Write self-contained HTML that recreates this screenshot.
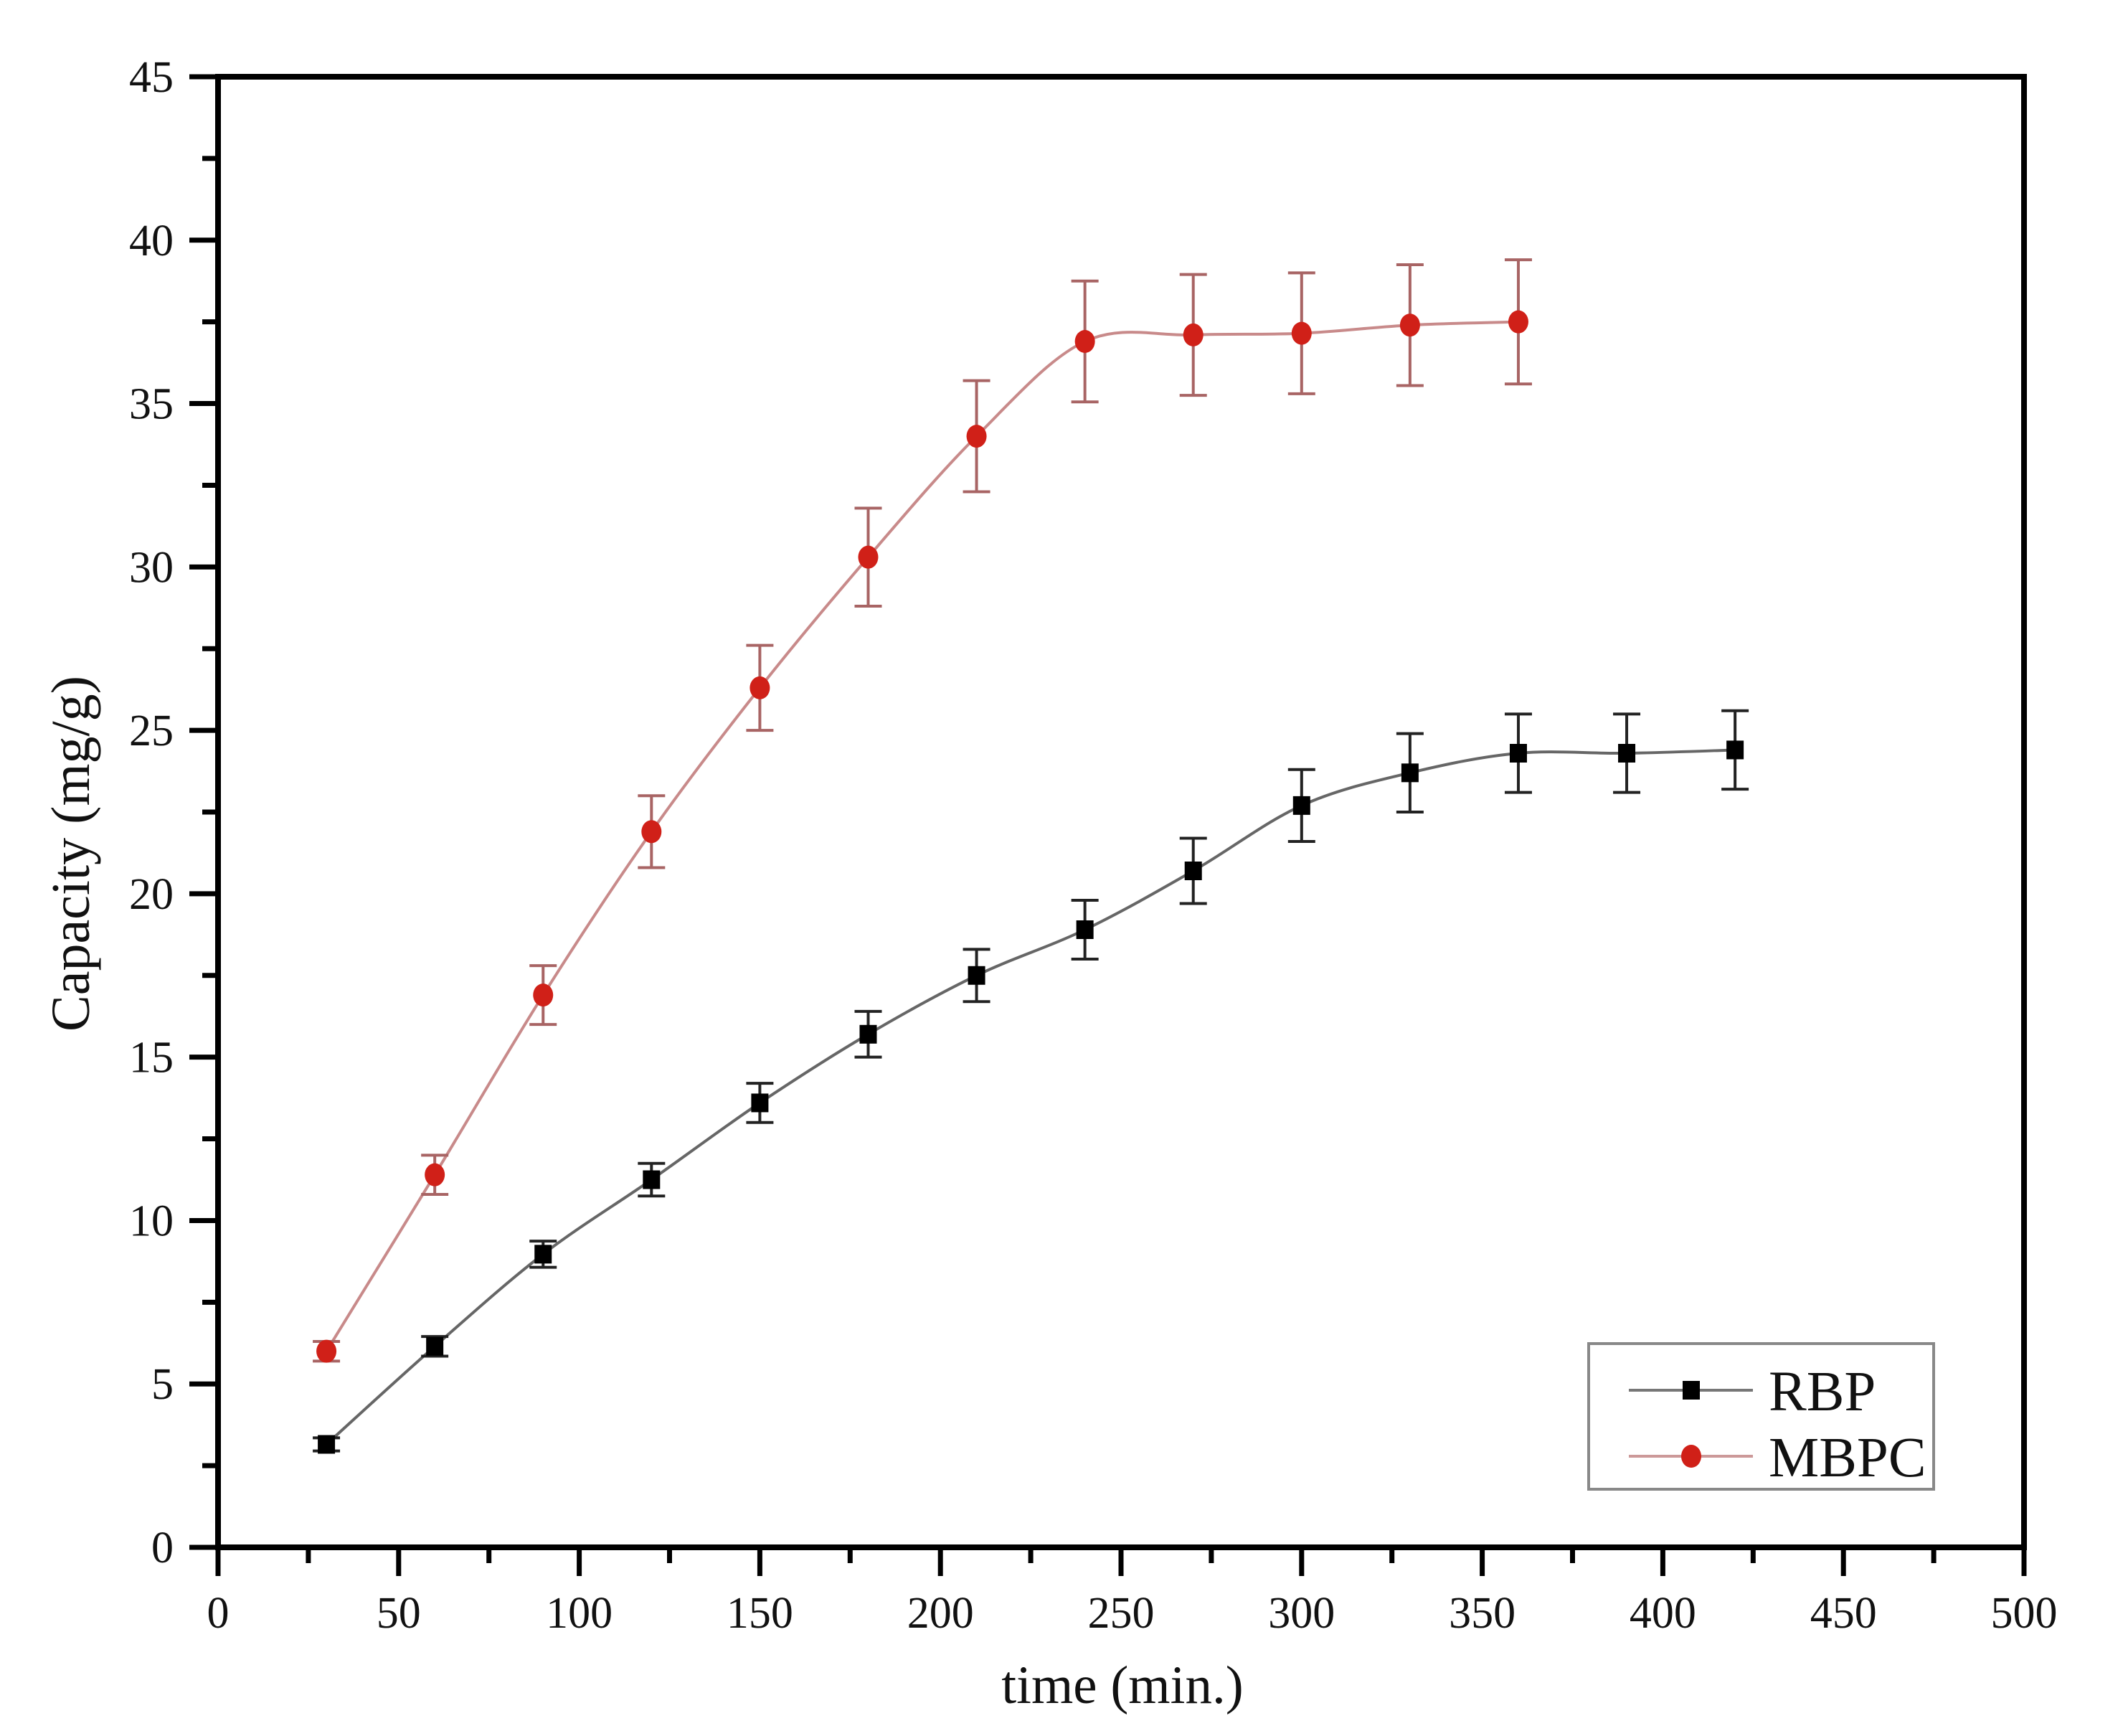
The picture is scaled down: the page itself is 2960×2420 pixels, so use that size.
<!DOCTYPE html>
<html><head><meta charset="utf-8"><style>
html,body{margin:0;padding:0;background:#fff;}
svg{display:block;}
text{font-family:"Liberation Serif",serif;fill:#111;}
</style></head><body>
<svg id="chart" width="2960" height="2420" viewBox="0 0 2960 2420" xmlns="http://www.w3.org/2000/svg">
<g id="axes"></g>
<g id="series"></g>
<text x="0" y="0" font-size="76" text-anchor="middle" transform="translate(124,1190) rotate(-90)">Capacity (mg/g)</text>
<text x="1565" y="2374" font-size="75" text-anchor="middle">time (min.)</text>
<g>
<rect x="2215" y="1873" width="481" height="203" fill="#fff" stroke="#888" stroke-width="4"/>
<g>
<line x1="2271" y1="1938" x2="2444" y2="1938" stroke="#777" stroke-width="4"/>
<rect x="2346" y="1925" width="24" height="26" fill="#000"/>
<text x="2466" y="1966" font-size="79">RBP</text>
</g>
<g>
<line x1="2271" y1="2030" x2="2444" y2="2030" stroke="#c99" stroke-width="4"/>
<ellipse cx="2358" cy="2030" rx="14" ry="16" fill="#d02018"/>
<text x="2466" y="2058" font-size="79">MBPC</text>
</g>
</g>
</svg>
<script>
const times = [30,60,90,120,150,180,210,240,270,300,330,360,390,420];
const rbpValues = [3.15,6.15,8.97,11.25,13.6,15.7,17.5,18.9,20.7,22.7,23.7,24.3,24.3,24.4];
const rbpErrors = [0.2,0.3,0.4,0.5,0.6,0.7,0.8,0.9,1.0,1.1,1.2,1.2,1.2,1.2];
const mbpcTimes = [30,60,90,120,150,180,210,240,270,300,330,360];
const mbpcValues = [6.0,11.4,16.9,21.9,26.3,30.3,34.0,36.9,37.1,37.15,37.4,37.5];
const mbpcErrors = [0.3,0.6,0.9,1.1,1.3,1.5,1.7,1.85,1.85,1.85,1.85,1.9];
const xTicks = [0,50,100,150,200,250,300,350,400,450,500];
const yTicks = [0,5,10,15,20,25,30,35,40,45];

const L=304,R=2822,T=107,B=2157;
const xS=v=>L+(v/500)*(R-L);
const yS=v=>B-(v/45)*(B-T);
const NS="http://www.w3.org/2000/svg";
function mk(tag,attrs,parent){const e=document.createElementNS(NS,tag);for(const k in attrs)e.setAttribute(k,attrs[k]);parent.appendChild(e);return e;}
const ax=document.getElementById('axes');
const frame=mk('rect',{x:L,y:T,width:R-L,height:B-T,fill:'none',stroke:'#000','stroke-width':8},ax);


for(let v=0;v<=500;v+=25){
  const major=v%50===0;
  const t=mk('line',{x1:xS(v),x2:xS(v),y1:B,y2:B+(major?40:22),stroke:'#000','stroke-width':7},ax);
  
  
}
xTicks.forEach(v=>{
  const t=mk('text',{x:xS(v),y:B+112,'font-size':62,'text-anchor':'middle'},ax);
  t.textContent=v;
  
  
});
for(let v=0;v<=45;v+=2.5){
  const major=v%5===0;
  const t=mk('line',{x1:L-(major?40:22),x2:L,y1:yS(v),y2:yS(v),stroke:'#000','stroke-width':7},ax);
  
  
}
yTicks.forEach(v=>{
  const t=mk('text',{x:L-62,y:yS(v)+21,'font-size':62,'text-anchor':'end'},ax);
  t.textContent=v;
  
  
});
function spline(pts){
  let d=`M${pts[0][0]},${pts[0][1]}`;
  for(let i=0;i<pts.length-1;i++){
    const p0=pts[Math.max(0,i-1)],p1=pts[i],p2=pts[i+1],p3=pts[Math.min(pts.length-1,i+2)];
    const c1=[p1[0]+(p2[0]-p0[0])/6,p1[1]+(p2[1]-p0[1])/6];
    const c2=[p2[0]-(p3[0]-p1[0])/6,p2[1]-(p3[1]-p1[1])/6];
    d+=` C${c1[0]},${c1[1]} ${c2[0]},${c2[1]} ${p2[0]},${p2[1]}`;
  }
  return d;
}
const sg=document.getElementById('series');
function drawSeries(name,xs,ys,es,lineCol,errCol,markCol,shape){
  const g=mk('g',{},sg);
  
  
  const pts=xs.map((x,i)=>[xS(x),yS(ys[i])]);
  const p=mk('path',{d:spline(pts),fill:'none',stroke:lineCol,'stroke-width':4},g);
  
  
  xs.forEach((x,i)=>{
    const cx=xS(x),top=yS(ys[i]+es[i]),bot=yS(ys[i]-es[i]);
    const e=mk('path',{d:`M${cx},${top}V${bot}M${cx-19},${top}H${cx+19}M${cx-19},${bot}H${cx+19}`,stroke:errCol,'stroke-width':4,fill:'none'},g);
    
    
  });
  xs.forEach((x,i)=>{
    const cx=xS(x),cy=yS(ys[i]);
    let m;
    if(shape==='sq') m=mk('rect',{x:cx-12,y:cy-13,width:24,height:26,fill:markCol},g);
    else m=mk('ellipse',{cx:cx,cy:cy,rx:14,ry:16,fill:markCol},g);
    
    
  });
}
drawSeries('mbpc',mbpcTimes,mbpcValues,mbpcErrors,'#c88a8a','#a86464','#d02018','c');
drawSeries('rbp',times,rbpValues,rbpErrors,'#666','#222','#000','sq');
</script>
</body></html>
